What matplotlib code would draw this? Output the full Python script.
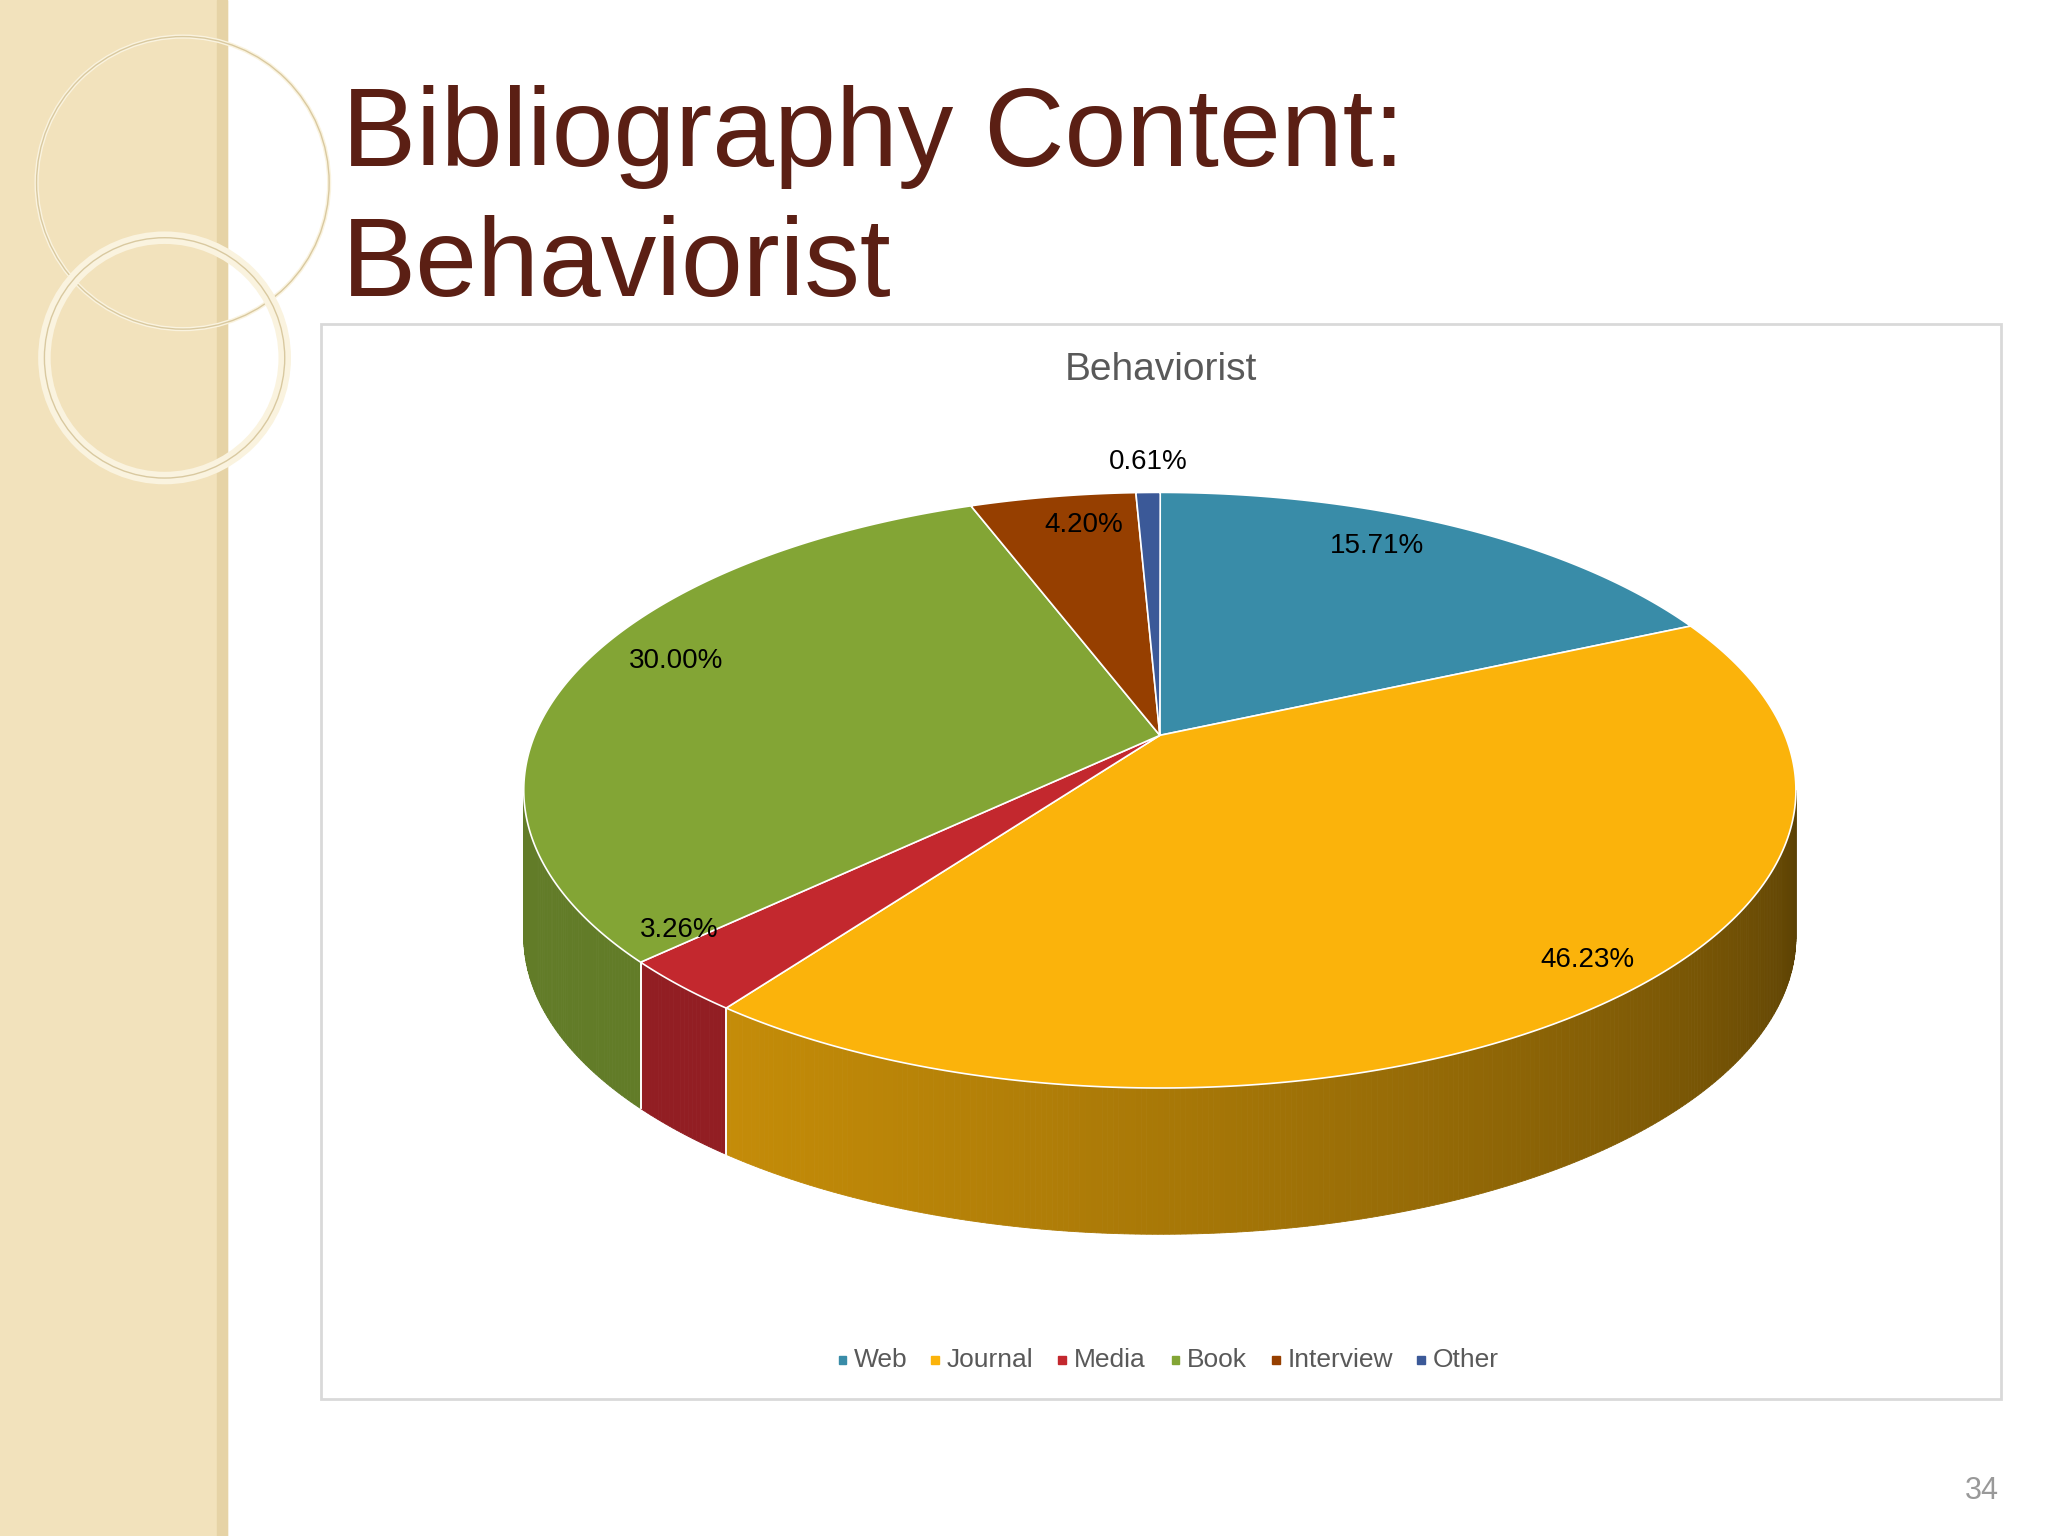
import numpy as np
import matplotlib.pyplot as plt
from matplotlib.patches import Polygon, Rectangle, Circle

categories = ['Web', 'Journal', 'Media', 'Book', 'Interview', 'Other']
shares = [15.71, 46.23, 3.26, 30.00, 4.20, 0.61]
colors = ['#398ca8', '#fbb30b', '#c3282e', '#83a535', '#963f00', '#3b5998']

W, H = 1568, 1176
fig = plt.figure(figsize=(20.48, 15.36), dpi=100)
ax = fig.add_axes([0, 0, 1, 1])
ax.set_xlim(0, W)
ax.set_ylim(H, 0)
ax.axis('off')
plt.rcParams['font.family'] = ['Liberation Sans', 'DejaVu Sans']

# slide background
ax.add_patch(Rectangle((0, 0), 174, H, color='#f2e2bc', zorder=0))
ax.add_patch(Rectangle((166, 0), 8, H, color='#e6d3a6', zorder=0))
for (cx0, cy0, r, lw) in [(140, 140, 112, 3), (126, 274, 92, 9)]:
    ax.add_patch(Circle((cx0, cy0), r, fill=False, ec='#faf3df', lw=lw, zorder=1))
    ax.add_patch(Circle((cx0, cy0), r, fill=False, ec='#d9c9a0', lw=1, zorder=1))

ax.text(262, 127, 'Bibliography Content:', fontsize=80, color='#5b1f14', va='baseline')
ax.text(262, 227, 'Behaviorist', fontsize=80, color='#5b1f14', va='baseline')
ax.text(1530, 1148, '34', fontsize=22, color='#999999', ha='right', va='baseline')

# chart box
ax.add_patch(Rectangle((246, 248), 1286, 823, fill=False, ec='#d9d9d9', lw=2))
ax.text(889, 283, 'Behaviorist', fontsize=28, color='#595959', ha='center', va='center')

# 3D pie
cx, cy, rx, ry, depth = 888, 605, 487, 228, 112
apex = (888, 563)


def pt(theta):
    t = np.radians(theta)
    return cx + rx * np.sin(t), cy - ry * np.cos(t)


bounds = np.concatenate([[0], np.cumsum(shares)]) / 100 * 360

def shade(c, f):
    c = np.array(plt.matplotlib.colors.to_rgb(c))
    return tuple(c * f)

# side walls (front half only)
for i, c in enumerate(colors):
    a0, a1 = max(bounds[i], 90), min(bounds[i + 1], 270)
    if a1 <= a0:
        continue
    steps = np.linspace(a0, a1, max(int((a1 - a0) * 2), 2))
    for s0, s1 in zip(steps[:-1], steps[1:]):
        p0, p1 = pt(s0), pt(s1)
        f = 0.85 - 0.5 * (1 - (s0 - 90) / 180) ** 1.5 if c == '#fbb30b' else 0.75
        poly = [p0, p1, (p1[0], p1[1] + depth), (p0[0], p0[1] + depth)]
        ax.add_patch(Polygon(poly, closed=True, color=shade(c, f), lw=0.6, zorder=2))
    for a in (a0, a1):
        if a in (bounds[i], bounds[i + 1]) and 90 < a < 270:
            x, y = pt(a)
            ax.plot([x, x], [y, y + depth], color='white', lw=1.2, zorder=3)

# top faces
for i, c in enumerate(colors):
    th = np.linspace(bounds[i], bounds[i + 1], 200)
    xs, ys = pt(th)
    poly = np.column_stack([np.r_[apex[0], xs], np.r_[apex[1], ys]])
    ax.add_patch(Polygon(poly, closed=True, fc=c, ec='white', lw=1.2, zorder=4))

# labels
label_pos = [(1054, 418), (1215, 735), (520, 712), (518, 506), (830, 402), (879, 354)]
for (x, y), v in zip(label_pos, shares):
    ax.text(x, y, f'{v:.2f}%', fontsize=20, ha='center', va='center', color='black', zorder=5)

# legend
legend_x = [642, 713, 810, 897, 974, 1085]
for lx, name, c in zip(legend_x, categories, colors):
    ax.add_patch(Rectangle((lx, 1038), 6, 6, color=c, zorder=5))
    ax.text(lx + 12, 1041, name, fontsize=19, color='#595959', va='center')

fig.savefig('out.png', dpi=100)
